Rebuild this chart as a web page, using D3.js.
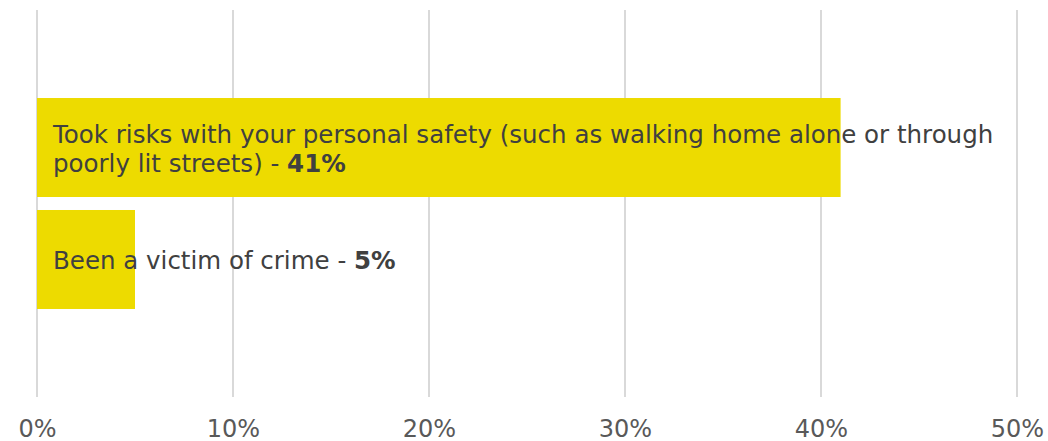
<!DOCTYPE html>
<html>
<head>
<meta charset="utf-8">
<script src="https://cdn.jsdelivr.net/npm/d3@7"></script>
<style>
  body { margin: 0; background: #fff; }
  svg { display: block; }
</style>
</head>
<body>
<svg id="chart" width="1048" height="441"></svg>
<script>
// chart data
const categories = [
  'Took risks with your personal safety (such as walking home alone or through poorly lit streets)',
  'Been a victim of crime',
];
const values = [41, 5];
const tick_values = [0, 10, 20, 30, 40, 50];

const width = 1048;
const height = 441;
const font = 'Verdana, "DejaVu Sans", sans-serif';
const label_size = '24.5px';

const svg = d3.select('#chart');

const x = d3.scaleLinear().domain([0, 50]).range([37, 1017]);
const y = d3.scaleBand()
  .domain(categories)
  .range([10, 397])
  .paddingInner(0.116)
  .paddingOuter(0.786);

// gridlines
svg.append('g')
  .selectAll('line')
  .data(tick_values)
  .join('line')
  .attr('x1', d => x(d))
  .attr('x2', d => x(d))
  .attr('y1', 10)
  .attr('y2', 397)
  .attr('stroke', '#d9d9d9')
  .attr('stroke-width', 2);

// bars
svg.append('g')
  .selectAll('rect')
  .data(categories)
  .join('rect')
  .attr('x', x(0))
  .attr('y', d => y(d))
  .attr('width', (d, i) => x(values[i]) - x(0))
  .attr('height', y.bandwidth())
  .attr('fill', '#eddb00');

// x axis labels
const axis = svg.append('g')
  .attr('transform', 'translate(0,437)')
  .call(d3.axisBottom(x).tickValues(tick_values).tickFormat(d => d + '%').tickSize(0).tickPadding(0));
axis.select('.domain').remove();
axis.selectAll('text')
  .attr('dy', 0)
  .attr('y', 0)
  .style('font-family', font)
  .style('font-size', '24px')
  .style('fill', '#595959');

// wrap label into lines by measuring
const max_width = 950;
const measure = svg.append('text')
  .style('font-family', font)
  .style('font-size', label_size);

const wrap_lines = function (label, suffix) {
  const words = (label + ' - ' + suffix).split(' ');
  const lines = [];
  let line = [];
  words.forEach(w => {
    line.push(w);
    measure.text(line.join(' '));
    if (measure.node().getComputedTextLength() > max_width && line.length > 1) {
      line.pop();
      lines.push(line.join(' '));
      line = [w];
    }
  });
  lines.push(line.join(' '));
  return lines;
};

const line_height = 29;
const labels = svg.append('g');

categories.forEach((cat, i) => {
  const pct = values[i] + '%';
  const lines = wrap_lines(cat, pct);
  const cy = y(cat) + y.bandwidth() / 2;
  const t = labels.append('text')
    .style('font-family', font)
    .style('font-size', label_size)
    .style('fill', '#404040');
  lines.forEach((ln, j) => {
    const by = cy + 10 + (j - (lines.length - 1) / 2) * line_height;
    const is_last = j == lines.length - 1;
    const plain = is_last ? ln.slice(0, ln.length - pct.length) : ln;
    t.append('tspan').attr('x', 53).attr('y', by).text(plain);
    if (is_last) {
      t.append('tspan').style('font-weight', 'bold').text(pct);
    }
  });
});

measure.remove();
</script>
</body>
</html>
